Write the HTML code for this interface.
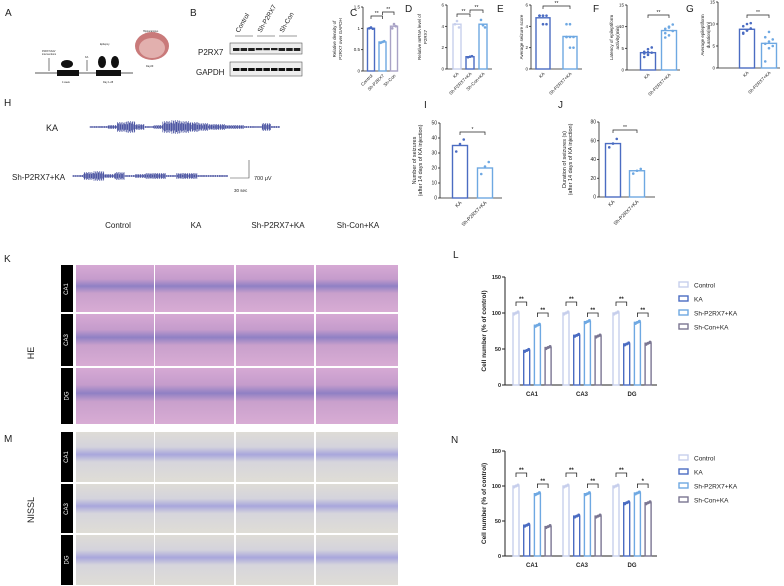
<!DOCTYPE html>
<html><head><meta charset="utf-8">
<style>
body{margin:0;width:784px;height:586px;background:#fff;position:relative;overflow:hidden;font-family:"Liberation Sans",sans-serif}
.lab{position:absolute;font-size:10px;color:#222}
.tile{position:absolute;box-sizing:border-box}
.he{background:linear-gradient(180deg,#d6a9d4 0%,#c59ccc 30%,#8f80c4 45%,#c9a0cc 60%,#d8acd4 100%)}
.ni{background:linear-gradient(180deg,#dedcd6 0%,#d4d3dc 30%,#a8a6dc 45%,#d6d5dc 60%,#dfddd6 100%)}
.strip{position:absolute;background:#000;color:#fff;font-size:6px;width:12px;display:flex;align-items:center;justify-content:center}
.strip span{transform:rotate(-90deg);white-space:nowrap}
</style></head><body>
<svg id="fig" width="784" height="586" style="position:absolute;left:0;top:0" font-family="Liberation Sans, sans-serif"></svg>
<div id="histo"></div>
<script>
// ---- data ----
const cLabels=["Control","Sh-P2RX7","Sh-Con"];
const cValues=[1.0,0.68,1.05];
const cPoints=[[1.0,1.02,0.99],[0.66,0.68,0.70],[1.0,1.1,1.05]];
const dLabels=["KA","Sh-P2RX7+KA","Sh-Con+KA"];
const dValues=[4.2,1.15,4.2];
const dPoints=[[4.2,4.5,3.9],[1.1,1.15,1.2],[4.6,4.1,3.9]];
const eLabels=["KA","Sh-P2RX7+KA"];
const eValues=[4.8,3.05];
const ePoints=[[5,5,5,5,4.2,4.2,5,5],[4.2,4.2,3,3,2,2,3,3]];
const fValues=[4.0,9.1];
const fPoints=[[3,3.5,4,4.2,4.8,5.2,3.8,4.1],[7.5,8,9,9.5,10,10.5,8.5,9.8]];
const gValues=[8.8,5.6];
const gPoints=[[8,8.5,9,9.5,10,10.2,7.8,8.6],[1.5,4.5,5,5.5,6,6.5,7,8.2]];
const iValues=[35,20];
const iPoints=[[31,36,39],[16,21,24]];
const jValues=[57,28];
const jPoints=[[53,57,62],[25,28,30]];
const regions=["CA1","CA3","DG"];
const seriesNames=["Control","KA","Sh-P2RX7+KA","Sh-Con+KA"];
const lControl=[100,100,100];
const lKA=[48,69,57];
const lShP=[83,88,87];
const lShCon=[52,68,58];
const nControl=[100,100,100];
const nKA=[44,57,76];
const nShP=[89,89,90];
const nShCon=[42,57,76];
const lSig=["**","**","**","**","**","**"];
const nSig=["**","**","**","**","**","*"];

const COL={ctrl:"#c7cfec",ka:"#4b6cc2",shp:"#6ea8e2",shc:"#7b7692"};
const svg=document.getElementById('fig');
const NS="http://www.w3.org/2000/svg";
function mk(tag,attrs,parent){const e=document.createElementNS(NS,tag);for(const k in attrs)e.setAttribute(k,attrs[k]);(parent||svg).appendChild(e);return e;}
function txt(x,y,s,size,attrs,parent){const t=mk('text',Object.assign({x:x,y:y,'font-size':size,fill:'#222'},attrs||{}),parent);t.textContent=s;return t;}

// generic small bar chart
function chart(name,o){
  const g=mk('g',{});
  
  
  const sy=v=>o.y0-(v/o.max)*(o.y0-o.yTop);
  mk('line',{x1:o.ax,y1:o.yTop,x2:o.ax,y2:o.y0,stroke:'#222','stroke-width':0.8},g);
  mk('line',{x1:o.ax,y1:o.y0,x2:o.xEnd,y2:o.y0,stroke:'#222','stroke-width':0.8},g);
  o.ticks.forEach(t=>{mk('line',{x1:o.ax-2,y1:sy(t),x2:o.ax,y2:sy(t),stroke:'#222','stroke-width':0.8},g);
    txt(o.ax-3,sy(t)+1.5,String(t),o.fs||4.5,{'text-anchor':'end'},g);});
  o.values.forEach((v,i)=>{
    const cx=o.ax+o.first+i*o.step;
    const b=mk('rect',{x:cx-o.w/2,y:sy(v),width:o.w,height:o.y0-sy(v),fill:'#fff',stroke:o.colors[i],'stroke-width':1.4},g);
    
    
    (o.points[i]||[]).forEach((p,j)=>mk('circle',{cx:cx+((j%3)-1)*o.w*0.25,cy:sy(p),r:1.3,fill:o.colors[i]},g));
    const lx=cx+2,ly=o.y0+5;
    txt(lx,ly,o.labels[i],o.fs||4.5,{'text-anchor':'end',transform:`rotate(-45 ${lx} ${ly})`},g);
  });
  (o.sig||[]).forEach(s=>{
    const x1=o.ax+o.first+s[0]*o.step,x2=o.ax+o.first+s[1]*o.step,y=s[2];
    mk('path',{d:`M${x1} ${y+3}V${y}H${x2}V${y+3}`,fill:'none',stroke:'#222','stroke-width':0.7},g);
    txt((x1+x2)/2,y-1,s[3],5,{'text-anchor':'middle'},g);
  });
  if(o.ylab){o.ylab.forEach((l,k)=>{const x=o.ylx+k*6;txt(x,(o.y0+o.yTop)/2,l,o.yfs||4.5,{'text-anchor':'middle',transform:`rotate(-90 ${x} ${(o.y0+o.yTop)/2})`},g);});}
}
chart('chart-c-p2rx7-density',{ax:363,y0:71,yTop:7,max:1.5,xEnd:398,ticks:[0,0.5,1.0,1.5],first:8,step:11.5,w:7,values:cValues,points:cPoints,labels:cLabels,colors:[COL.ka,COL.shp,"#a9a3c6"],sig:[[0,1,16,"**"],[1,2,12,"**"]],ylab:["Relative density of","P2RX7 over GAPDH"],ylx:336});
chart('chart-d-mrna',{ax:447,y0:69,yTop:5,max:6,xEnd:492,ticks:[0,2,4,6],first:10,step:13,w:8,values:dValues,points:dPoints,labels:dLabels,colors:[COL.ctrl,COL.ka,COL.shp],sig:[[0,1,14,"**"],[1,2,10,"**"]],ylab:["Relative mRNA level of","P2RX7"],ylx:421});
chart('chart-e-seizure-score',{ax:531,y0:69,yTop:5,max:6,xEnd:582,ticks:[0,2,4,6],first:12,step:27,w:14,values:eValues,points:ePoints,labels:eLabels,colors:[COL.ka,COL.shp],sig:[[0,1,6,"**"]],ylab:["Average seizure score"],ylx:523});
chart('chart-f-latency',{ax:627,y0:70,yTop:5,max:15,xEnd:680,ticks:[0,5,10,15],first:21,step:21,w:15,values:fValues,points:fPoints,labels:eLabels,colors:[COL.ka,COL.shp],sig:[[0,1,15,"**"]],ylab:["Latency of epileptiform","activity(min)"],ylx:613});
chart('chart-g-duration',{ax:718,y0:68,yTop:2,max:15,xEnd:780,ticks:[0,5,10,15],first:29,step:22,w:15,values:gValues,points:gPoints,labels:eLabels,colors:[COL.ka,COL.shp],sig:[[0,1,15,"**"]],ylab:["Average epileptiform","duration(min)"],ylx:704});
chart('chart-i-seizure-number',{ax:440,y0:198,yTop:123,max:50,xEnd:502,ticks:[0,10,20,30,40,50],first:20,step:25,w:15,values:iValues,points:iPoints,labels:eLabels,colors:[COL.ka,COL.shp],sig:[[0,1,132,"*"]],ylab:["Number of seizures","(after 14 days of KA injection)"],ylx:416,fs:5,yfs:5.5});
chart('chart-j-seizure-duration',{ax:599,y0:197,yTop:122,max:80,xEnd:655,ticks:[0,20,40,60,80],first:14,step:24,w:15,values:jValues,points:jPoints,labels:eLabels,colors:[COL.ka,COL.shp],sig:[[0,1,130,"**"]],ylab:["Duration of seizures (s)","(after 14 days of KA injection)"],ylx:566,fs:5,yfs:5.5});

// grouped charts L and N
function grouped(name,o,series){
  const g=mk('g',{});
  
  
  const sy=v=>o.y0-(v/150)*(o.y0-o.yTop);
  mk('line',{x1:505,y1:o.yTop,x2:505,y2:o.y0,stroke:'#222','stroke-width':1},g);
  mk('line',{x1:505,y1:o.y0,x2:657,y2:o.y0,stroke:'#222','stroke-width':1},g);
  [0,50,100,150].forEach(t=>{mk('line',{x1:502,y1:sy(t),x2:505,y2:sy(t),stroke:'#222'},g);txt(501,sy(t)+2,String(t),5.5,{'text-anchor':'end','font-weight':'bold'},g);});
  const cols=[COL.ctrl,COL.ka,COL.shp,COL.shc];
  regions.forEach((r,gi)=>{
    const base=516+gi*50;
    series.forEach((s,si)=>{
      const cx=base+si*10.7,v=s[gi];
      const b=mk('rect',{x:cx-3,y:sy(v),width:6,height:o.y0-sy(v),fill:'#fff',stroke:cols[si],'stroke-width':1.4},g);
      
      
      [-2,0,2].forEach((d,k)=>mk('circle',{cx:cx+d,cy:sy(v+(k-1)*1.5),r:1.5,fill:cols[si]},g));
    });
    [[0,1],[2,3]].forEach((pr,pi)=>{
      const x1=base+pr[0]*10.7,x2=base+pr[1]*10.7,y=pi?o.s2:o.s1;
      mk('path',{d:`M${x1} ${y+4}V${y}H${x2}V${y+4}`,fill:'none',stroke:'#222','stroke-width':0.8},g);
      txt((x1+x2)/2,y-1,o.sig[gi*2+pi],6,{'text-anchor':'middle','font-weight':'bold'},g);
    });
    txt(base+16,o.y0+11,r,6,{'text-anchor':'middle','font-weight':'bold'},g);
  });
  const my=(o.y0+o.yTop)/2;
  txt(486,my,"Cell number (% of control)",6.5,{'text-anchor':'middle','font-weight':'bold',transform:`rotate(-90 486 ${my})`},g);
  seriesNames.forEach((n,i)=>{
    const y=o.leg+i*14;
    const l=mk('rect',{x:679,y:y-3,width:9,height:5,fill:'#fff',stroke:cols[i],'stroke-width':1.4},g);
    txt(694,y+2.5,n,6.5,{},g);
  });
}
grouped('chart-l-he-cell-number',{y0:385,yTop:277,s1:302,s2:313,leg:285,sig:lSig},[lControl,lKA,lShP,lShCon]);
grouped('chart-n-nissl-cell-number',{y0:556,yTop:451,s1:473,s2:484,leg:458,sig:nSig},[nControl,nKA,nShP,nShCon]);

// panel letters
[["A",5,16],["B",190,16],["C",350,16],["D",405,12],["E",497,12],["F",593,12],["G",686,12],["H",4,106],["I",424,108],["J",558,108],["K",4,262],["L",453,258],["M",4,442],["N",451,443]].forEach(a=>{
  const t=txt(a[1],a[2],a[0],10);
  
  
});

// panel A timeline
mk('line',{x1:35,y1:73,x2:133,y2:73,stroke:'#222','stroke-width':0.8});
mk('rect',{x:57,y:70,width:22,height:6,fill:'#111'});
mk('rect',{x:96,y:70,width:25,height:6,fill:'#111'});
mk('line',{x1:49,y1:58,x2:49,y2:71,stroke:'#222','stroke-width':0.6});
mk('line',{x1:87,y1:60,x2:87,y2:71,stroke:'#222','stroke-width':0.6});
mk('ellipse',{cx:67,cy:64,rx:6,ry:4,fill:'#111'});
mk('ellipse',{cx:102,cy:62,rx:4,ry:6,fill:'#111'});
mk('ellipse',{cx:115,cy:62,rx:4,ry:6,fill:'#111'});
mk('ellipse',{cx:152,cy:46,rx:17,ry:14,fill:'#c97a7a'});
mk('ellipse',{cx:152,cy:48,rx:13,ry:10,fill:'#e2b0ae'});
txt(42,52,"P2RX7/AAV",2.5);txt(42,55,"interventions",2.5);txt(85,58,"KA",2.5);
txt(100,45,"Epilepsy",2.5);txt(143,32,"Hippocampus",2.5);
txt(62,83,"4 week",2.5);txt(103,83,"Day 1-28",2.5);txt(146,67,"Day29",2.5);

// panel B blot
txt(198,55,"P2RX7",8);txt(196,75,"GAPDH",8);
const blot=mk('g',{});
mk('rect',{x:230,y:43,width:72,height:11,fill:'#eee',stroke:'#555','stroke-width':0.6},blot);
mk('rect',{x:230,y:62,width:72,height:14,fill:'#eee',stroke:'#555','stroke-width':0.6},blot);
for(let i=0;i<9;i++){const x=233+i*7.6;mk('rect',{x:x,y:48,width:6.5,height:i>=3&&i<6?2.2:3,fill:'#222'},blot);mk('rect',{x:x,y:68,width:6.5,height:3,fill:'#111'},blot);}
[["Control",245],["Sh-P2RX7",267],["Sh-Con",289]].forEach((c,i)=>{mk('line',{x1:c[1]-10,y1:36,x2:c[1]+8,y2:36,stroke:'#333','stroke-width':0.6});txt(c[1]-6,33,c[0],6.5,{transform:`rotate(-60 ${c[1]-6} 33)`});});

// panel H traces
txt(46,131,"KA",9);txt(12,180,"Sh-P2RX7+KA",8);
function trace(x0,x1,y,amps){let d="";for(let x=x0;x<x1;x+=0.7){const k=Math.floor((x-x0)/((x1-x0)/amps.length));const a=amps[k]*(0.4+0.6*Math.abs(Math.sin(x*7.3)));d+=`M${x.toFixed(1)} ${(y-a).toFixed(1)}V${(y+a).toFixed(1)}`;}
  const p=mk('path',{d:d,stroke:'#1f2a8a','stroke-width':0.5,fill:'none'});}
trace(90,280,127,[1,1,2,5,6,3,1,2,6,7,6,5,4,3,3,2,2,1,1,4,1]);
trace(73,228,176,[1,4,5,2,4,1,2,3,3,1,3,3,1,1,1]);
mk('path',{d:"M230 178H249V160",fill:'none',stroke:'#444','stroke-width':0.6});
txt(254,180,"700 μV",5.5);txt(234,192,"30 sec",4.5);

// histology headers
[["Control",118],["KA",196],["Sh-P2RX7+KA",278],["Sh-Con+KA",358]].forEach(c=>txt(c[1],228,c[0],8,{'text-anchor':'middle'}));
txt(34,353,"HE",9,{'text-anchor':'middle',transform:'rotate(-90 34 353)'});
txt(34,510,"NISSL",9,{'text-anchor':'middle',transform:'rotate(-90 34 510)'});

// histology tiles
const H=document.getElementById('histo');
const colsX=[[76,78],[155,79],[236,78],[316,82]];
const rowsY=[[265,47,'he','CA1'],[314,52,'he','CA3'],[368,56,'he','DG'],[432,50,'ni','CA1'],[484,49,'ni','CA3'],[535,50,'ni','DG']];
rowsY.forEach((r,ri)=>{
  const s=document.createElement('div');s.className='strip';
  
  
  s.style.cssText=`left:61px;top:${r[0]}px;height:${r[1]}px`;s.innerHTML='<span>'+r[3]+'</span>';H.appendChild(s);
  colsX.forEach((c,ci)=>{const d=document.createElement('div');d.className='tile '+r[2];
    
    
    d.style.cssText=`left:${c[0]}px;top:${r[0]}px;width:${c[1]}px;height:${r[1]}px`;H.appendChild(d);});
});
</script>
</body></html>
